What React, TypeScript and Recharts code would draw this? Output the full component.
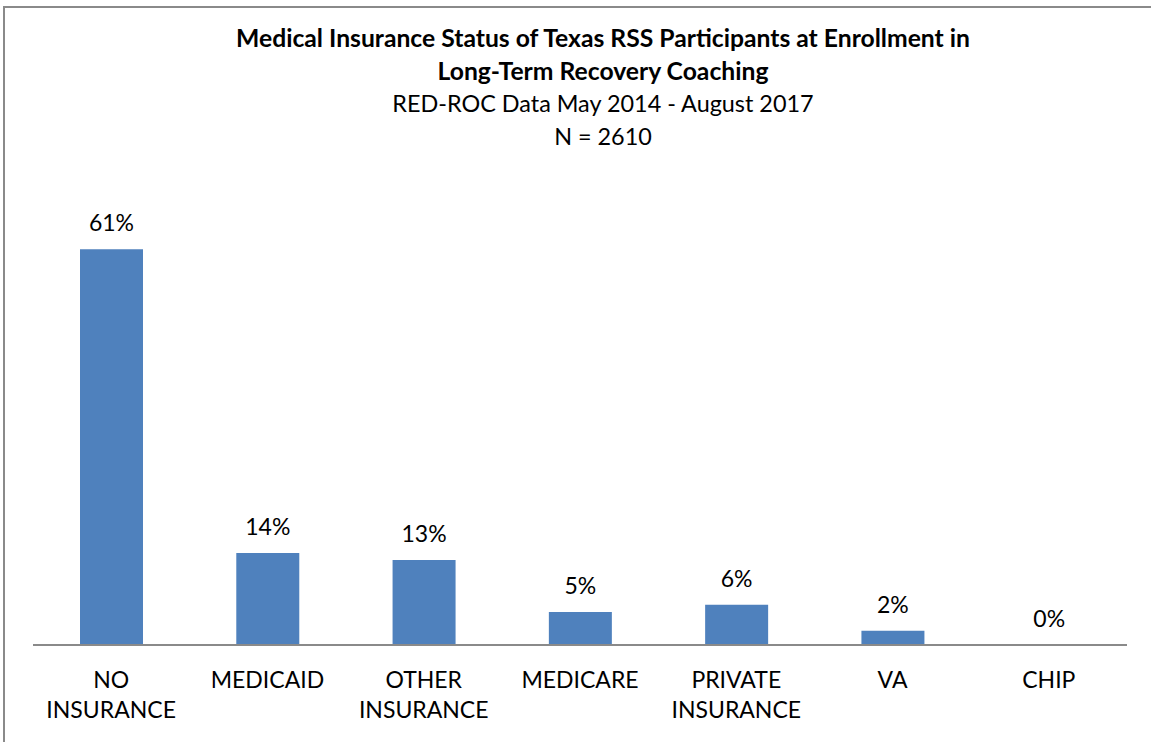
import React from "react";
import { BarChart, Bar, XAxis, YAxis, LabelList } from "recharts";

const categories = [
  "NO INSURANCE",
  "MEDICAID",
  "OTHER INSURANCE",
  "MEDICARE",
  "PRIVATE INSURANCE",
  "VA",
  "CHIP",
];
const percentValues = [61, 14.2, 13.1, 5.1, 6.2, 2.2, 0.04];
const titleLines = [
  "Medical Insurance Status of Texas RSS Participants at Enrollment in",
  "Long-Term Recovery Coaching",
];
const subtitleLines = ["RED-ROC Data May 2014 - August 2017", "N = 2610"];

const data = categories.map((c, i) => ({ name: c, value: percentValues[i] }));

const FONT = "Lato, 'Open Sans', sans-serif";

const CategoryTick = (props: any) => {
  const { x, y, payload } = props;
  const lines = String(payload.value).split(" ");
  return (
    <g>
      {lines.map((l: string, i: number) => (
        <text
          key={i}
          x={x}
          y={y + 43 + i * 30}
          textAnchor="middle"
          fontFamily={FONT}
          fontSize={23}
          fill="#000"
        >
          {l}
        </text>
      ))}
    </g>
  );
};

export default function App() {
  return (
    <div
      style={{
        position: "absolute",
        left: 0,
        top: 0,
        width: 1151,
        height: 742,
        overflow: "hidden",
        background: "#fff",
      }}
    >
      <div
        style={{
          position: "absolute",
          left: 3,
          top: 6,
          width: 1300,
          height: 900,
          border: "2px solid #8a8a8a",
        }}
      />
      <svg
        width={1151}
        height={742}
        style={{ position: "absolute", left: 0, top: 0 }}
      >
        {titleLines.map((t, i) => (
          <text
            key={"t" + i}
            x={603}
            y={47 + i * 33}
            textAnchor="middle"
            fontFamily={FONT}
            fontWeight="bold"
            fontSize={24.7}
            fill="#000"
          >
            {t}
          </text>
        ))}
        {subtitleLines.map((t, i) => (
          <text
            key={"s" + i}
            x={603}
            y={112 + i * 33}
            textAnchor="middle"
            fontFamily={FONT}
            fontSize={23.4}
            fill="#000"
          >
            {t}
          </text>
        ))}
      </svg>
      <div style={{ position: "absolute", left: 0, top: 0 }}>
        <BarChart
          width={1151}
          height={742}
          data={data}
          margin={{ top: 191, right: 24, left: 33, bottom: 0 }}
          barSize={63}
        >
          <XAxis
            dataKey="name"
            height={97}
            axisLine={{ stroke: "#8a8a8a", strokeWidth: 2 }}
            tickLine={false}
            tickSize={0}
            tickMargin={0}
            interval={0}
            tick={<CategoryTick />}
          />
          <YAxis hide domain={[0, 70]} />
          <Bar dataKey="value" fill="#4F81BD" isAnimationActive={false}>
            <LabelList
              dataKey="value"
              position="top"
              offset={18}
              formatter={(v: any) => `${Math.round(Number(v))}%`}
              style={{ fontFamily: FONT, fontSize: 23, fill: "#000" }}
            />
          </Bar>
        </BarChart>
      </div>
    </div>
  );
}
